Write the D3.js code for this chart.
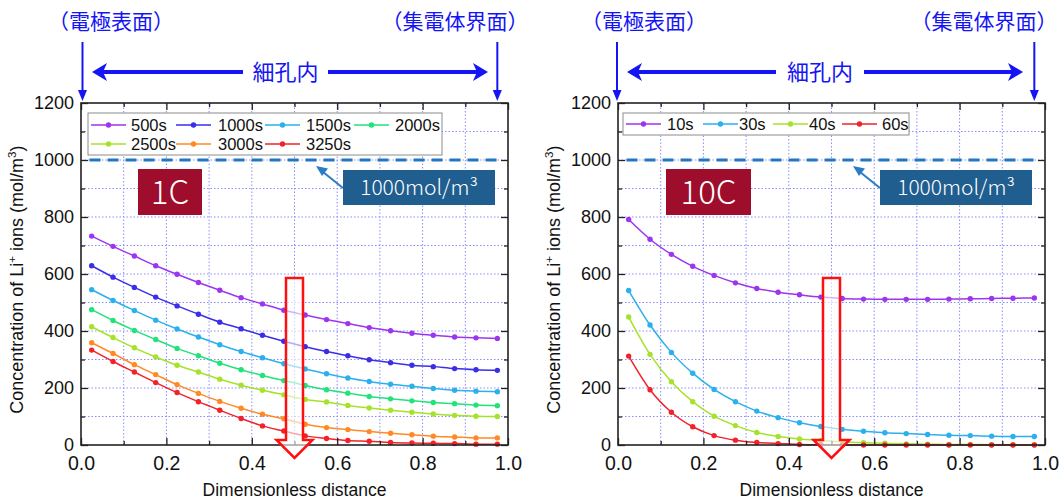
<!DOCTYPE html>
<html>
<head>
<meta charset="utf-8">
<script src="https://cdn.jsdelivr.net/npm/d3@7"></script>
<style>
body { margin: 0; background: #fff; }
text { font-family: "Liberation Sans", Arial, sans-serif; fill: #111; }
.jp { font-family: "Noto Sans CJK JP", sans-serif; }
</style>
</head>
<body>
<div id="chart"></div>
<script>
// positions along the pore (dimensionless)
var xs = [0.025, 0.075, 0.125, 0.175, 0.225, 0.275, 0.325, 0.375, 0.425, 0.475,
          0.525, 0.575, 0.625, 0.675, 0.725, 0.775, 0.825, 0.875, 0.925, 0.975];

// 1C discharge
var names1C = ["500s", "1000s", "1500s", "2000s", "2500s", "3000s", "3250s"];
var c500  = [733, 697, 663, 629, 599, 570, 543, 517, 495, 473, 456, 440, 426, 412, 401, 392, 385, 379, 376, 374];
var c1000 = [629, 589, 553, 519, 488, 459, 431, 408, 385, 364, 345, 328, 313, 299, 289, 280, 275, 268, 264, 262];
var c1500 = [545, 507, 472, 438, 407, 379, 352, 328, 306, 285, 267, 250, 235, 223, 213, 206, 198, 192, 189, 187];
var c2000 = [475, 437, 402, 370, 339, 313, 287, 264, 244, 226, 209, 194, 182, 170, 162, 155, 149, 145, 140, 138];
var c2500 = [415, 377, 341, 309, 280, 256, 231, 210, 192, 176, 160, 151, 139, 130, 122, 115, 109, 104, 101, 100];
var c3000 = [359, 321, 282, 247, 212, 181, 153, 129, 108, 92, 73, 61, 54, 47, 41, 36, 31, 28, 25, 25];
var c3250 = [333, 293, 256, 219, 184, 152, 122, 93, 67, 49, 32, 23, 16, 13, 9, 7, 6, 5, 3, 3];

// 10C discharge
var names10C = ["10s", "30s", "40s", "60s"];
var r10 = [791, 722, 669, 627, 595, 569, 549, 536, 527, 519, 514, 512, 511, 511, 511, 512, 513, 514, 515, 516];
var r30 = [542, 421, 325, 252, 195, 152, 119, 96, 78, 65, 55, 48, 43, 40, 37, 34, 33, 31, 30, 30];
var r40 = [449, 318, 222, 152, 101, 68, 44, 30, 21, 16, 11, 8, 6, 4, 3, 2, 2, 1, 1, 1];
var r60 = [312, 194, 115, 64, 33, 17, 9, 5, 2, 1, 0, 0, 0, 0, 0, 0, 0, 0, 0, 0];

var xTicks = [0, 0.2, 0.4, 0.6, 0.8, 1.0];
var xMinor = [0.1, 0.3, 0.5, 0.7, 0.9];
var yTicks = [0, 200, 400, 600, 800, 1000, 1200];
var yMinor = [100, 300, 500, 700, 900, 1100];
var refLevel = 1000;

var colors1C = ["#9d35f0", "#3a2ee8", "#2bb0ee", "#22e27a", "#a6e22a", "#ff8a24", "#f2222a"];
var colors10C = ["#9d35f0", "#2bb0ee", "#a6e22a", "#f2222a"];

var W = 1060, H = 499;
var blue = "#1414f5";
var svg = d3.select("#chart").append("svg")
  .attr("width", W).attr("height", H);

function arrowHead(g, x, y, dir) {
  // bold chevron for the horizontal arrows, dir = +1 points right
  g.append("polygon")
    .attr("points", [[x, y], [x - dir*15, y - 9], [x - dir*11, y], [x - dir*15, y + 9]].join(" "))
    .attr("fill", blue);
}

function drawPanel(p) {
  var g = svg.append("g");
  var x = d3.scaleLinear().domain([0, 1]).range([p.ox, p.ox + 427]);
  var y = d3.scaleLinear().domain([0, 1200]).range([445, 103]);

  // grid
  g.append("g").selectAll("line.gx")
    .data(xTicks.concat(xMinor).filter(function(d) { return d > 0 && d < 1; }))
    .enter().append("line")
    .attr("x1", function(d) { return x(d); }).attr("x2", function(d) { return x(d); })
    .attr("y1", y(0)).attr("y2", y(1200))
    .attr("stroke", "#8a8aff").attr("stroke-width", 1).attr("stroke-dasharray", "1.5,2");
  g.append("g").selectAll("line.gy")
    .data(yTicks.concat(yMinor).filter(function(d) { return d > 0 && d < 1200; }))
    .enter().append("line")
    .attr("x1", x(0)).attr("x2", x(1))
    .attr("y1", function(d) { return y(d); }).attr("y2", function(d) { return y(d); })
    .attr("stroke", "#8a8aff").attr("stroke-width", 1).attr("stroke-dasharray", "1.5,2");

  // 1000 mol/m3 reference
  g.append("line")
    .attr("x1", x(0.02)).attr("x2", x(0.975))
    .attr("y1", y(refLevel)).attr("y2", y(refLevel))
    .attr("stroke", "#2277c0").attr("stroke-width", 3).attr("stroke-dasharray", "11,7");

  // series
  var line = d3.line()
    .x(function(d) { return x(d[0]); })
    .y(function(d) { return y(d[1]); })
    .curve(d3.curveMonotoneX);
  p.series.forEach(function(s, i) {
    var pts = xs.map(function(v, j) { return [v, s[j]]; });
    g.append("path").attr("d", line(pts))
      .attr("fill", "none").attr("stroke", p.colors[i]).attr("stroke-width", 1.5);
    g.append("g").selectAll("circle").data(pts).enter().append("circle")
      .attr("cx", function(d) { return x(d[0]); })
      .attr("cy", function(d) { return y(d[1]); })
      .attr("r", 2.7).attr("fill", p.colors[i]);
  });

  // axes, ticks inward on all sides
  function ax(axis, tr, vals, size, labels, fs, pad) {
    var a = g.append("g").attr("transform", tr)
      .call(axis.tickValues(vals).tickSize(-size).tickPadding(pad || 0)
        .tickFormat(labels ? labels : ""));
    a.select(".domain").remove();
    a.selectAll(".tick line").attr("stroke", "#222").attr("stroke-width", 1.3);
    a.selectAll("text").style("font-size", fs + "px").attr("fill", "#111");
    return a;
  }
  ax(d3.axisBottom(x), "translate(0," + y(0) + ")", xTicks, 7, d3.format(".1f"), 19.5, 11);
  ax(d3.axisBottom(x), "translate(0," + y(0) + ")", xMinor, 4, null);
  ax(d3.axisTop(x), "translate(0," + y(1200) + ")", xTicks, 7, null);
  ax(d3.axisTop(x), "translate(0," + y(1200) + ")", xMinor, 4, null);
  var yl = ax(d3.axisLeft(y), "translate(" + x(0) + ",0)", yTicks, 7, d3.format("d"), 18, 7);
  yl.selectAll("text").attr("dy", "0.28em");
  ax(d3.axisLeft(y), "translate(" + x(0) + ",0)", yMinor, 4, null);
  ax(d3.axisRight(y), "translate(" + x(1) + ",0)", yTicks, 7, null);
  ax(d3.axisRight(y), "translate(" + x(1) + ",0)", yMinor, 4, null);
  g.append("rect")
    .attr("x", x(0)).attr("y", y(1200))
    .attr("width", x(1) - x(0)).attr("height", y(0) - y(1200))
    .attr("fill", "none").attr("stroke", "#222").attr("stroke-width", 1.6);

  // axis titles
  g.append("text")
    .attr("x", x(0.5)).attr("y", 496)
    .attr("text-anchor", "middle").style("font-size", "17.5px")
    .text("Dimensionless distance");
  var yt = g.append("text")
    .attr("transform", "translate(" + (p.ox - 58) + "," + y(580) + ") rotate(-90)")
    .attr("text-anchor", "middle").style("font-size", "18px");
  yt.append("tspan").text("Concentration of Li");
  yt.append("tspan").attr("dy", -7).style("font-size", "11.5px").text("+");
  yt.append("tspan").attr("dy", 7).text(" ions (mol/m");
  yt.append("tspan").attr("dy", -7).style("font-size", "11.5px").text("3");
  yt.append("tspan").attr("dy", 7).text(")");

  // red hollow arrow at the middle of the pore
  var cx = x(0.5);
  g.append("path")
    .attr("d", "M" + (cx - 8.5) + ",278 L" + (cx + 8.5) + ",278 L" + (cx + 8.5) + ",440 L" +
      (cx + 18) + ",440 L" + cx + ",458 L" + (cx - 18) + ",440 L" + (cx - 8.5) + ",440 Z")
    .attr("fill", "#fff").attr("fill-opacity", 0.6)
    .attr("stroke", "#ff1010").attr("stroke-width", 2.5).attr("stroke-linejoin", "miter");

  // legend
  var lg = g.append("g");
  lg.append("rect")
    .attr("x", p.ox + p.legBox[0]).attr("y", 113)
    .attr("width", p.legBox[1]).attr("height", p.legBox[2])
    .attr("fill", "#fff").attr("stroke", "#8c8c8c").attr("stroke-width", 1);
  p.names.forEach(function(n, i) {
    var it = p.legItems[i];
    var lx = p.ox + it[0], ly = it[2];
    lg.append("line").attr("x1", lx).attr("x2", lx + 35).attr("y1", ly).attr("y2", ly)
      .attr("stroke", p.colors[i]).attr("stroke-width", 1.5);
    lg.append("circle").attr("cx", lx + 17.5).attr("cy", ly).attr("r", 2.7).attr("fill", p.colors[i]);
    lg.append("text").attr("x", p.ox + it[1]).attr("y", ly).attr("dy", "0.35em")
      .style("font-size", "16.5px").text(n);
  });

  // C-rate label
  g.append("rect")
    .attr("x", p.ox + p.tag[0]).attr("y", 169).attr("width", p.tag[1]).attr("height", 46)
    .attr("fill", "#9e0d2c");
  g.append("text").attr("class", "jp")
    .attr("x", p.ox + p.tag[0] + p.tag[1] / 2).attr("y", 192).attr("dy", "0.36em")
    .attr("text-anchor", "middle").style("font-size", "33px").style("font-weight", 300)
    .style("fill", "#fff")
    .text(p.label);

  // 1000 mol/m3 callout
  g.append("line")
    .attr("x1", p.ox + 262).attr("y1", 188).attr("x2", p.ox + 242).attr("y2", 172)
    .attr("stroke", "#2a7cc4").attr("stroke-width", 2);
  g.append("polygon")
    .attr("points", [[p.ox + 235, 166], [p.ox + 247, 168.5], [p.ox + 241, 176]].join(" "))
    .attr("fill", "#2a7cc4");
  g.append("rect")
    .attr("x", p.ox + 262).attr("y", 170).attr("width", 152).attr("height", 35)
    .attr("fill", "#1f5e8f");
  g.append("text").attr("class", "jp")
    .attr("x", p.ox + 338).attr("y", 187.5).attr("dy", "0.36em")
    .attr("text-anchor", "middle").style("font-size", "21px").style("font-weight", 300)
    .style("fill", "#fff")
    .text("1000mol/m³");

  // annotations above the plot
  var a = svg.append("g");
  a.append("text").attr("class", "jp")
    .attr("x", p.topL).attr("y", 22).attr("dy", "0.35em")
    .attr("text-anchor", "middle").style("font-size", "21px").style("fill", blue)
    .text("（電極表面）");
  a.append("text").attr("class", "jp")
    .attr("x", p.topR).attr("y", 22).attr("dy", "0.35em")
    .attr("text-anchor", "middle").style("font-size", "21px").style("fill", blue)
    .text("（集電体界面）");
  [p.vL, x(0.975)].forEach(function(vx) {
    a.append("line").attr("x1", vx).attr("x2", vx).attr("y1", 42).attr("y2", 92)
      .attr("stroke", blue).attr("stroke-width", 2);
    a.append("polygon").attr("points", [[vx, 101], [vx - 4.5, 90], [vx + 4.5, 90]].join(" "))
      .attr("fill", blue);
  });
  a.append("line").attr("x1", p.hL + 10).attr("x2", p.gap[0]).attr("y1", 72).attr("y2", 72)
    .attr("stroke", blue).attr("stroke-width", 4);
  a.append("line").attr("x1", p.gap[1]).attr("x2", p.hR - 10).attr("y1", 72).attr("y2", 72)
    .attr("stroke", blue).attr("stroke-width", 4);
  arrowHead(a, p.hL, 72, -1);
  arrowHead(a, p.hR, 72, 1);
  a.append("text").attr("class", "jp")
    .attr("x", (p.gap[0] + p.gap[1]) / 2).attr("y", 72).attr("dy", "0.36em")
    .attr("text-anchor", "middle").style("font-size", "22px").style("fill", blue)
    .text("細孔内");
}

drawPanel({
  ox: 81, label: "1C", names: names1C, colors: colors1C,
  series: [c500, c1000, c1500, c2000, c2500, c3000, c3250],
  legBox: [7, 354, 42],
  legItems: [[10, 50, 125], [95, 137, 125], [184, 225, 125], [273, 314, 125],
             [10, 50, 144], [95, 137, 144], [184, 225, 144]],
  tag: [57, 64],
  topL: 111, topR: 455, vL: 82.5, hL: 92, hR: 488, gap: [243, 328]
});

drawPanel({
  ox: 618, label: "10C", names: names10C, colors: colors10C,
  series: [r10, r30, r40, r60],
  legBox: [5, 286, 22],
  legItems: [[8, 49, 124], [85, 121, 124], [155, 191, 124], [224, 264, 124]],
  tag: [48, 85],
  topL: 644, topR: 984, vL: 617, hL: 627, hR: 1023, gap: [776, 864]
});
</script>
</body>
</html>
